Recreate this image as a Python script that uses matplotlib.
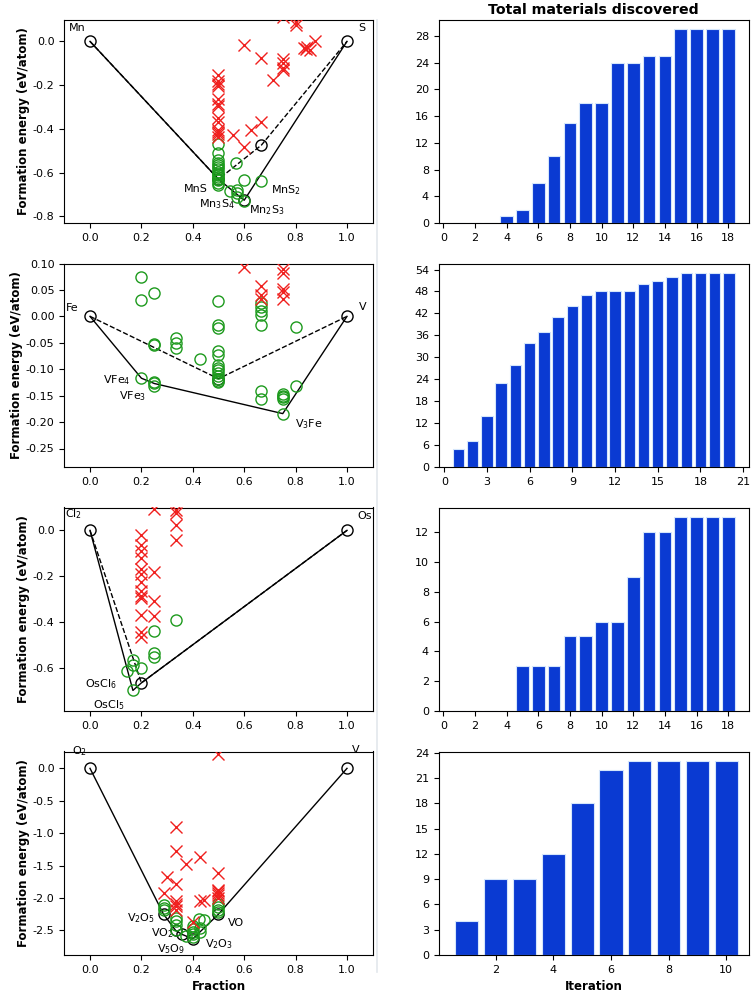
import numpy as np
from matplotlib import pyplot as plt
from matplotlib.ticker import MultipleLocator
from matplotlib.lines import Line2D

# ---- Mn-S ----
mns_black_x = [0.0, 1.0, 0.5, 0.667, 0.6]
mns_black_y = [0.0, 0.0, -0.63, -0.474, -0.726]
mns_hull_x = [0.0, 0.5, 0.6, 1.0]
mns_hull_y = [0.0, -0.63, -0.726, 0.0]
mns_old_x = [0.0, 0.5, 0.667, 1.0]
mns_old_y = [0.0, -0.63, -0.474, 0.0]
mns_green_x = [0.5] * 15 + [0.57, 0.545, 0.571, 0.571, 0.571, 0.6, 0.6, 0.667]
mns_green_y = [-0.47, -0.51, -0.54, -0.555, -0.565, -0.575, -0.585, -0.595,
               -0.605, -0.612, -0.62, -0.628, -0.635, -0.645, -0.655,
               -0.555, -0.682, -0.677, -0.695, -0.71, -0.634, -0.73, -0.636]
mns_red_x = [0.5] * 13 + [0.556, 0.6, 0.6, 0.625, 0.667, 0.667, 0.714, 0.75,
                          0.75, 0.75, 0.75, 0.8, 0.8, 0.75, 0.833, 0.84,
                          0.857, 0.846, 0.875]
mns_red_y = [-0.155, -0.18, -0.195, -0.205, -0.265, -0.285, -0.295, -0.35,
             -0.37, -0.405, -0.415, -0.425, -0.435,
             -0.428, -0.484, -0.015, -0.405, -0.37, -0.075, -0.175, -0.082,
             -0.1, -0.12, -0.13, 0.075, 0.09, 0.11, -0.028, -0.035, -0.04,
             -0.025, 0.0]

# ---- Fe-V ----
fev_black_x = [0.0, 1.0, 0.5]
fev_black_y = [0.0, 0.0, -0.118]
fev_hull_x = [0.0, 0.2, 0.25, 0.75, 1.0]
fev_hull_y = [0.0, -0.117, -0.127, -0.184, 0.0]
fev_old_x = [0.0, 0.5, 1.0]
fev_old_y = [0.0, -0.118, 0.0]
fev_green_x = [0.2, 0.2, 0.2,
               0.25, 0.25, 0.25, 0.25, 0.25, 0.25,
               0.333, 0.333, 0.333, 0.429] + [0.5] * 13 + \
              [0.667] * 7 + [0.75] * 5 + [0.8, 0.8]
fev_green_y = [0.075, 0.031, -0.117,
               0.045, -0.052, -0.055, -0.124, -0.127, -0.131,
               -0.041, -0.051, -0.06, -0.081,
               0.029, -0.016, -0.022, -0.065, -0.073, -0.092, -0.097,
               -0.102, -0.107, -0.112, -0.118, -0.122, -0.125,
               0.025, 0.018, 0.011, 0.003, -0.017, -0.142, -0.156,
               -0.146, -0.15, -0.153, -0.157, -0.184,
               -0.021, -0.132]
fev_red_x = [0.6, 0.667, 0.667, 0.667, 0.75, 0.75, 0.75, 0.75, 0.75]
fev_red_y = [0.093, 0.058, 0.041, 0.033, 0.09, 0.082, 0.052, 0.047, 0.032]

# ---- Cl-Os ----
clos_black_x = [0.0, 1.0, 0.2]
clos_black_y = [0.0, 0.0, -0.667]
clos_hull_x = [0.0, 0.167, 0.2, 1.0]
clos_hull_y = [0.0, -0.70, -0.667, 0.0]
clos_old_x = [0.0, 0.2, 1.0]
clos_old_y = [0.0, -0.667, 0.0]
clos_green_x = [0.143, 0.167, 0.167, 0.2, 0.167, 0.25, 0.25, 0.25, 0.333]
clos_green_y = [-0.617, -0.568, -0.59, -0.602, -0.70, -0.442, -0.538,
                -0.556, -0.394]
clos_red_x = [0.2] * 13 + [0.25] * 4 + [0.333] * 4
clos_red_y = [-0.02, -0.065, -0.09, -0.12, -0.17, -0.19, -0.225, -0.265,
              -0.285, -0.295, -0.37, -0.445, -0.465,
              0.095, -0.18, -0.31, -0.375,
              0.09, 0.075, 0.025, -0.04]

# ---- O-V ----
ov_black_x = [0.0, 1.0, 0.286, 0.333, 0.357, 0.4, 0.5]
ov_black_y = [0.0, 0.0, -2.25, -2.5, -2.56, -2.63, -2.25]
ov_hull_x = [0.0, 0.286, 0.333, 0.357, 0.4, 0.5, 1.0]
ov_hull_y = [0.0, -2.25, -2.5, -2.56, -2.63, -2.25, 0.0]
ov_green_x = [0.286, 0.286, 0.286, 0.333, 0.333, 0.333, 0.333, 0.375,
              0.4, 0.4, 0.4, 0.4, 0.4, 0.429, 0.429, 0.423, 0.444,
              0.5, 0.5, 0.5, 0.5]
ov_green_y = [-2.11, -2.15, -2.19, -2.31, -2.36, -2.41, -2.49, -2.59,
              -2.44, -2.48, -2.52, -2.56, -2.6, -2.46, -2.53, -2.33, -2.34,
              -2.1, -2.14, -2.18, -2.21]
ov_red_x = [0.286, 0.3, 0.333, 0.333, 0.333, 0.333, 0.333, 0.333, 0.333,
            0.375, 0.429, 0.429, 0.444, 0.4, 0.5, 0.5, 0.5, 0.5, 0.5, 0.5,
            0.5]
ov_red_y = [-1.93, -1.67, -0.91, -1.27, -1.79, -2.05, -2.09, -2.12, -2.19,
            -1.48, -1.37, -2.05, -2.03, -2.37, 0.22, -1.62, -1.87, -1.9,
            -1.93, -1.96, -2.0]

# ---- total materials discovered ----
iter1 = np.arange(1, 19)
total1 = [0, 0, 0, 1, 2, 6, 10, 15, 18, 18, 24, 24, 25, 25, 29, 29, 29, 29]
iter2 = np.arange(1, 21)
total2 = [5, 7, 14, 23, 28, 34, 37, 41, 44, 47, 48, 48, 48, 50, 51, 52, 53,
          53, 53, 53]
iter3 = np.arange(1, 19)
total3 = [0, 0, 0, 0, 3, 3, 3, 5, 5, 6, 6, 9, 12, 12, 13, 13, 13, 13]
iter4 = np.arange(1, 11)
total4 = [4, 9, 9, 12, 18, 22, 23, 23, 23, 23]

phase_sets = [
    (mns_black_x, mns_black_y, mns_hull_x, mns_hull_y, mns_old_x, mns_old_y,
     mns_green_x, mns_green_y, mns_red_x, mns_red_y),
    (fev_black_x, fev_black_y, fev_hull_x, fev_hull_y, fev_old_x, fev_old_y,
     fev_green_x, fev_green_y, fev_red_x, fev_red_y),
    (clos_black_x, clos_black_y, clos_hull_x, clos_hull_y, clos_old_x,
     clos_old_y, clos_green_x, clos_green_y, clos_red_x, clos_red_y),
    (ov_black_x, ov_black_y, ov_hull_x, ov_hull_y, None, None,
     ov_green_x, ov_green_y, ov_red_x, ov_red_y),
]
ylims = [(-0.83, 0.1), (-0.285, 0.1), (-0.79, 0.1), (-2.88, 0.26)]
ysteps = [0.2, 0.05, 0.2, 0.5]

labels = [
    [("Mn", -0.05, 0.06), ("S", 1.058, 0.06), ("MnS", 0.41, -0.673),
     (r"Mn$_3$S$_4$", 0.494, -0.745), (r"Mn$_2$S$_3$", 0.686, -0.769),
     (r"MnS$_2$", 0.763, -0.68)],
    [("Fe", -0.07, 0.016), ("V", 1.062, 0.017), (r"VFe$_4$", 0.103, -0.12),
     (r"VFe$_3$", 0.165, -0.151), (r"V$_3$Fe", 0.85, -0.203)],
    [(r"Cl$_2$", -0.065, 0.071), ("Os", 1.07, 0.062),
     (r"OsCl$_6$", 0.041, -0.674), (r"OsCl$_5$", 0.072, -0.764)],
    [(r"O$_2$", -0.041, 0.26), ("V", 1.032, 0.285),
     (r"V$_2$O$_5$", 0.2, -2.31), (r"VO$_2$", 0.283, -2.54),
     (r"V$_5$O$_9$", 0.317, -2.785), (r"V$_2$O$_3$", 0.503, -2.71),
     ("VO", 0.569, -2.386)],
]

bar_sets = [(iter1, total1, 4, 2), (iter2, total2, 6, 3),
            (iter3, total3, 2, 2), (iter4, total4, 3, 2)]

plt.rcParams['font.size'] = 8
plt.rcParams['mathtext.default'] = 'regular'

fig = plt.figure(figsize=(7.54, 9.92), dpi=100)
fig.add_artist(Line2D([0.5005, 0.5005], [0.02, 0.98], color='#e3e8ec',
                      lw=1.2, transform=fig.transFigure))

for i in range(4):
    top = 19.5 + 244 * i
    h = 203.5
    bottom = 1 - (top + h) / 992.0
    ax = fig.add_axes([64.3 / 754, bottom, 308.4 / 754, h / 992.0])
    bx, by, hx, hy, ox, oy, gx, gy, rx, ry = phase_sets[i]
    ax.plot(hx, hy, 'k-', lw=1.0, zorder=2)
    if ox is not None:
        ax.plot(ox, oy, 'k--', lw=1.0, zorder=2)
    ax.plot(bx, by, 'o', mfc='none', mec='k', ms=8, mew=1.0, zorder=3)
    ax.plot(gx, gy, 'o', mfc='none', mec='#1d9a1d', ms=8, mew=1.0, zorder=4)
    ax.plot(rx, ry, 'x', color='#f0201e', ms=8, mew=1.0, zorder=4)
    for txt, tx, ty in labels[i]:
        ax.text(tx, ty, txt, ha='center', va='center', fontsize=8)
    ax.set_xlim(-0.1, 1.1)
    ax.set_ylim(ylims[i])
    ax.yaxis.set_major_locator(MultipleLocator(ysteps[i]))
    ax.xaxis.set_major_locator(MultipleLocator(0.2))
    ax.set_ylabel("Formation energy (eV/atom)", fontsize=8.5,
                  fontweight='bold', labelpad=2)
    if i == 1:
        ax.yaxis.set_major_formatter(plt.FormatStrFormatter('%.2f'))
    else:
        ax.yaxis.set_major_formatter(plt.FormatStrFormatter('%.1f'))
    ax.xaxis.set_major_formatter(plt.FormatStrFormatter('%.1f'))
    if i == 3:
        ax.set_xlabel("Fraction", fontsize=8.5, fontweight='bold')

    ax2 = fig.add_axes([438.7 / 754, bottom, 310.0 / 754, h / 992.0])
    it, tot, ystep, xstep = bar_sets[i]
    ax2.bar(it, tot, width=0.8, color='#0a3ad2', edgecolor='#d5e6fb',
            linewidth=0.8)
    ax2.yaxis.set_major_locator(MultipleLocator(ystep))
    ax2.xaxis.set_major_locator(MultipleLocator(xstep))
    if i == 0:
        ax2.set_title("Total materials discovered", fontsize=10.2,
                      fontweight='bold', pad=4)
    if i == 3:
        ax2.set_xlim(0.02, 10.78)
        ax2.set_xlabel("Iteration", fontsize=8.5, fontweight='bold')

plt.savefig("out.png", dpi=100)
plt.close()
